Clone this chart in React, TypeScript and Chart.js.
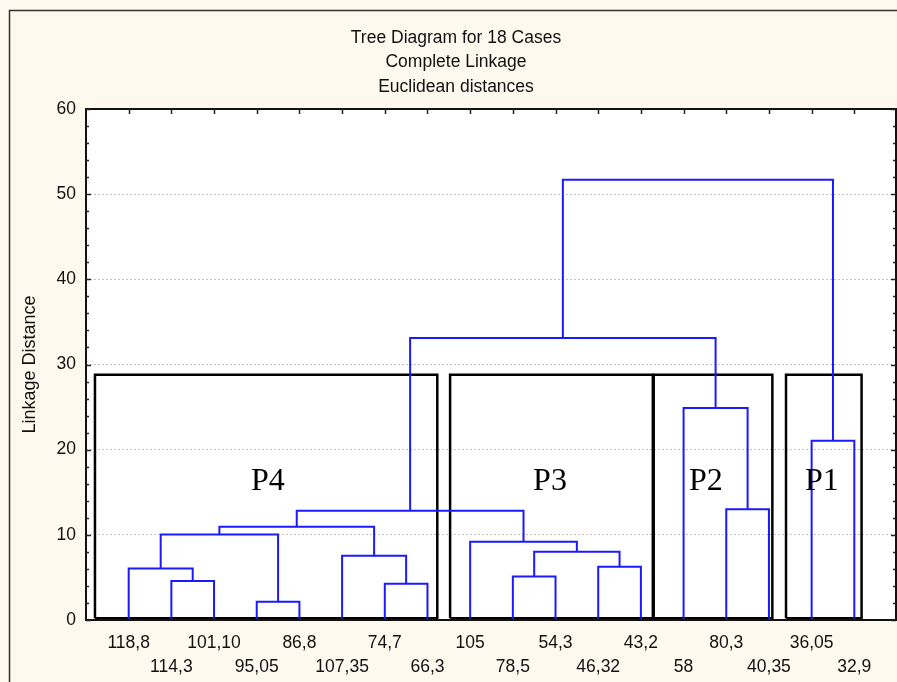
import React, { useEffect, useRef } from "react";
import { Chart, registerables } from "chart.js";

Chart.register(...registerables);

// ---- data ----
const titleLines = ["Tree Diagram for 18 Cases", "Complete Linkage", "Euclidean distances"];
const yAxisTitle = "Linkage Distance";
const leafLabels = [
  "118,8", "114,3", "101,10", "95,05", "86,8", "107,35", "74,7", "66,3", "105",
  "78,5", "54,3", "46,32", "43,2", "58", "80,3", "40,35", "36,05", "32,9",
];
// nodes 0..17 are leaves (in plotted order); merge k creates node 18 + k
const mergeLeftChild = [1, 0, 3, 19, 6, 5, 21, 9, 11, 25, 8, 24, 14, 13, 29, 16, 32];
const mergeRightChild = [2, 18, 4, 20, 7, 22, 23, 10, 12, 26, 27, 28, 15, 30, 31, 17, 33];
const mergeHeights = [4.58, 6.06, 2.15, 10.05, 4.26, 7.55, 10.95, 5.12, 6.26, 8.02, 9.19, 12.83, 12.99, 24.89, 33.11, 21.05, 51.7];

const groupNames = ["P4", "P3", "P2", "P1"];
const groupLeft = [0.21, 8.53, 13.3, 16.4];
const groupRight = [8.23, 13.28, 16.08, 18.17];
const groupTop = [28.8, 28.8, 28.8, 28.8];
const groupBottom = [0.2, 0.2, 0.2, 0.2];
const groupLabelX = [4.26, 10.87, 14.52, 17.24];
const groupLabelY = [15.3, 15.3, 15.3, 15.3];

const yMin = 0;
const yMax = 60;
const yStep = 10;
const xMin = 0;
const xMax = leafLabels.length + 1;

// ---- styles ----
const SANS = '"Liberation Sans", Arial, sans-serif';
const SERIF = '"Liberation Serif", "Times New Roman", serif';
const CREAM = "#fdf9ee";
const LINK = "#1a1aff";
const INK = "#111111";

function buildTree() {
  const nodeX: number[] = leafLabels.map((_, i) => i + 1);
  const nodeY: number[] = leafLabels.map(() => 0);
  const links: { x: number; y: number }[][] = [];
  mergeHeights.forEach((h, k) => {
    const a = mergeLeftChild[k];
    const b = mergeRightChild[k];
    links.push([
      { x: nodeX[a], y: nodeY[a] },
      { x: nodeX[a], y: h },
      { x: nodeX[b], y: h },
      { x: nodeX[b], y: nodeY[b] },
    ]);
    nodeX.push((nodeX[a] + nodeX[b]) / 2);
    nodeY.push(h);
  });
  return links;
}

const framePlugin = {
  id: "framePlugin",
  beforeDraw(chart: any) {
    const { ctx, chartArea: ca, width, height } = chart;
    ctx.save();
    ctx.fillStyle = CREAM;
    ctx.fillRect(0, 0, width, height);
    ctx.fillStyle = "#ffffff";
    ctx.fillRect(ca.left, ca.top, ca.right - ca.left, ca.bottom - ca.top);
    ctx.strokeStyle = "#333333";
    ctx.lineWidth = 1.5;
    ctx.beginPath();
    ctx.moveTo(9.5, height + 2);
    ctx.lineTo(9.5, 10.5);
    ctx.lineTo(width + 2, 10.5);
    ctx.stroke();
    ctx.restore();
  },
  afterDatasetsDraw(chart: any) {
    const { ctx, chartArea: ca, scales } = chart;
    const xs = scales.x;
    const ys = scales.y;
    ctx.save();
    // group labels
    ctx.fillStyle = "#000";
    ctx.font = `32px ${SERIF}`;
    ctx.textAlign = "center";
    ctx.textBaseline = "alphabetic";
    groupNames.forEach((n, i) => {
      ctx.fillText(n, xs.getPixelForValue(groupLabelX[i]), ys.getPixelForValue(groupLabelY[i]));
    });
    // plot border
    ctx.strokeStyle = "#111";
    ctx.lineWidth = 2;
    ctx.strokeRect(ca.left, ca.top, ca.right - ca.left - 1, ca.bottom - ca.top);
    // ticks
    ctx.lineWidth = 1.5;
    ctx.strokeStyle = "#222";
    ctx.beginPath();
    for (let v = yMin; v <= yMax; v += 2) {
      const py = Math.round(ys.getPixelForValue(v)) + 0.5;
      const len = v % yStep === 0 ? 5 : 3;
      ctx.moveTo(ca.left, py);
      ctx.lineTo(ca.left + len, py);
      ctx.moveTo(ca.right - 1, py);
      ctx.lineTo(ca.right - 1 - len, py);
    }
    leafLabels.forEach((_, i) => {
      const px = Math.round(xs.getPixelForValue(i + 1)) + 0.5;
      ctx.moveTo(px, ca.top);
      ctx.lineTo(px, ca.top + 5);
      ctx.moveTo(px, ca.bottom);
      ctx.lineTo(px, ca.bottom - 3);
    });
    ctx.stroke();
    ctx.restore();
  },
};

export default function App() {
  const ref = useRef<HTMLCanvasElement | null>(null);

  useEffect(() => {
    if (!ref.current) return;
    const links = buildTree();
    const linkSets = links.map((pts) => ({
      data: pts,
      showLine: true,
      borderColor: LINK,
      borderWidth: 2,
      pointRadius: 0,
      fill: false,
      order: 1,
    }));
    const boxSets = groupNames.map((_, i) => ({
      data: [
        { x: groupLeft[i], y: groupBottom[i] },
        { x: groupLeft[i], y: groupTop[i] },
        { x: groupRight[i], y: groupTop[i] },
        { x: groupRight[i], y: groupBottom[i] },
        { x: groupLeft[i], y: groupBottom[i] },
      ],
      showLine: true,
      borderColor: "#000000",
      borderWidth: 2.5,
      pointRadius: 0,
      fill: false,
      order: 2,
    }));

    const chart = new Chart(ref.current, {
      type: "scatter",
      data: { datasets: [...linkSets, ...boxSets] as any },
      options: {
        responsive: false,
        animation: false,
        devicePixelRatio: 1,
        layout: { padding: { left: 15, right: 0, top: 0, bottom: 0 } },
        plugins: {
          legend: { display: false },
          tooltip: { enabled: false },
          title: {
            display: true,
            text: titleLines,
            color: INK,
            font: { family: SANS, size: 17.5, weight: "normal", lineHeight: "24.5px" } as any,
            padding: { top: 25.75, bottom: 9.75 },
          },
        },
        scales: {
          x: {
            type: "linear",
            min: xMin,
            max: xMax,
            position: "bottom",
            afterBuildTicks: (s: any) => {
              s.ticks = leafLabels.map((_, i) => ({ value: i + 1 }));
            },
            afterFit: (s: any) => {
              s.height = 62;
            },
            grid: { display: false, drawTicks: false },
            border: { display: false },
            ticks: {
              autoSkip: false,
              maxRotation: 0,
              minRotation: 0,
              padding: 11,
              color: INK,
              font: { family: SANS, size: 17.5, lineHeight: "24px" } as any,
              callback: (v: any) => {
                const i = Math.round(Number(v)) - 1;
                const lab = leafLabels[i] ?? "";
                return i % 2 === 0 ? lab : ["", lab];
              },
            },
          },
          y: {
            type: "linear",
            min: yMin,
            max: yMax,
            position: "left",
            afterFit: (s: any) => {
              s.width = 71;
            },
            grid: {
              drawTicks: false,
              color: (c: any) =>
                c.tick && c.tick.value > yMin && c.tick.value < yMax ? "#c2c2c2" : "rgba(0,0,0,0)",
              lineWidth: 1,
            },
            border: { display: false, dash: [2, 2] },
            ticks: {
              stepSize: yStep,
              padding: 10,
              color: INK,
              font: { family: SANS, size: 17.5 },
            },
            title: {
              display: true,
              text: yAxisTitle,
              color: INK,
              font: { family: SANS, size: 18, weight: "normal" } as any,
              padding: { top: 4, bottom: 0 },
            },
          },
        },
      },
      plugins: [framePlugin],
    });
    return () => chart.destroy();
  }, []);

  return (
    <div style={{ position: "fixed", left: 0, top: 0, width: 897, height: 682, overflow: "hidden" }}>
      <canvas ref={ref} width={897} height={682} style={{ display: "block" }} />
    </div>
  );
}
